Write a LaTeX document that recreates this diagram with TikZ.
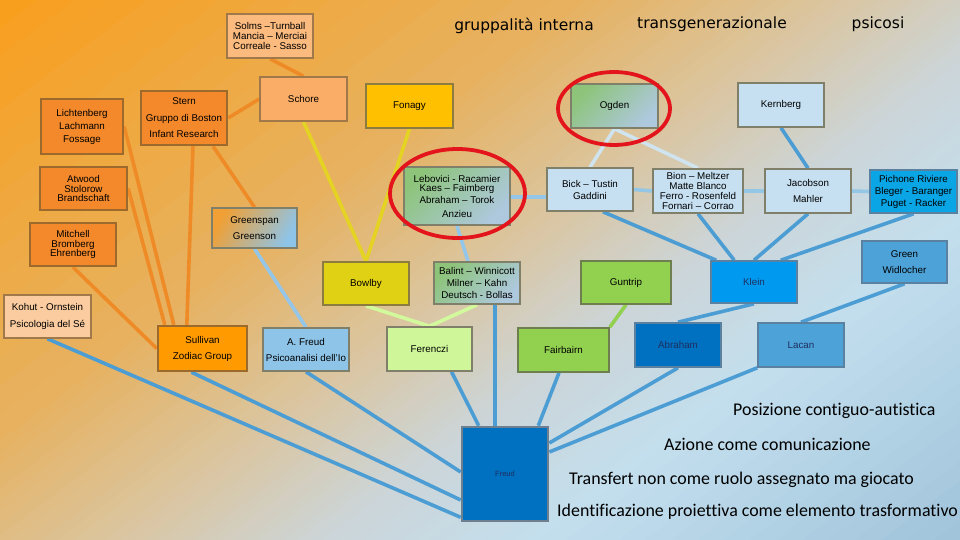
\documentclass[tikz,border=0pt]{standalone}
\usepackage{fontspec}
\setmainfont{Liberation Sans}
\newfontfamily\titlefont{DejaVu Sans}
\newfontfamily\notefont[Ligatures=NoCommon]{Carlito}
\usetikzlibrary{calc}
\newcommand\nfont[1]{\fontsize{9.8}{#1}\selectfont}
\definecolor{bgA}{HTML}{F99E1C}
\definecolor{bgB}{HTML}{E6B262}
\definecolor{bgC}{HTML}{DAC6A2}
\definecolor{bgD}{HTML}{CCD5D8}
\definecolor{bgE}{HTML}{C3DFEE}
\definecolor{bgF}{HTML}{A0C3DA}
\definecolor{fOrange}{HTML}{F4892B}
\definecolor{fPeach}{HTML}{FBBA7E}
\definecolor{fSchore}{HTML}{F9AD66}
\definecolor{fKohut}{HTML}{FBCCA0}
\definecolor{fSull}{HTML}{FF9A00}
\definecolor{fFonagy}{HTML}{FFC000}
\definecolor{fBowlby}{HTML}{E1D114}
\definecolor{fFer}{HTML}{CFF79A}
\definecolor{fGreen}{HTML}{92D050}
\definecolor{fPale}{HTML}{C6E0F2}
\definecolor{fAFreud}{HTML}{8EC4E8}
\definecolor{fPich}{HTML}{0AA5E5}
\definecolor{fKlein}{HTML}{0099F0}
\definecolor{fMid}{HTML}{4DA2D8}
\definecolor{fDark}{HTML}{0070C0}
\definecolor{gGreen}{HTML}{8DC47A}
\definecolor{gBlue}{HTML}{AEC8DE}
\definecolor{gOr}{HTML}{F0A035}
\definecolor{bBrown}{HTML}{9C6A2C}
\definecolor{bTan}{HTML}{A0784A}
\definecolor{bOlive}{HTML}{8C7C40}
\definecolor{bGreen}{HTML}{6E7E4E}
\definecolor{bGray}{HTML}{7F7F6A}
\definecolor{bBlue}{HTML}{5A82A0}
\definecolor{bFreud}{HTML}{6E808F}
\definecolor{tNavy}{HTML}{1F3060}
\definecolor{lO}{HTML}{EF8B26}
\definecolor{lY}{HTML}{E4D322}
\definecolor{lLB}{HTML}{93C6E8}
\definecolor{lVL}{HTML}{D0E4F0}
\definecolor{lMB}{HTML}{94C6E6}
\definecolor{lB}{HTML}{4C9DD3}
\definecolor{lG}{HTML}{92D050}
\definecolor{lLG}{HTML}{D2FA9C}
\definecolor{ringRed}{HTML}{E3141B}
\pgfdeclarelayer{bg}
\pgfdeclarelayer{lines}
\pgfsetlayers{bg,lines,main}
\begin{document}
\begin{tikzpicture}[x=1pt,y=-1pt,
  box/.style={draw=bGray, line width=1.6pt, minimum width=86pt, minimum height=44pt,
    inner sep=1pt, align=center, font=\nfont{16.5}, text=black},
  obox/.style={box, fill=fOrange, draw=bBrown, line width=2.4pt},
  pbox/.style={box, fill=fPale, draw=bGray},
  gbox/.style={box, draw=bGray, top color=gGreen, bottom color=gBlue, shading angle=45},
  con/.style={line width=3.6pt},
  cO/.style={con, draw=lO},
  cY/.style={con, draw=lY},
  cLB/.style={con, draw=lLB},
  cVL/.style={con, draw=lVL},
  cMB/.style={con, draw=lMB},
  cB/.style={con, draw=lB},
  cG/.style={con, draw=lG},
  cLG/.style={con, draw=lLG},
  ring/.style={draw=ringRed, line width=3.8pt},
  ttl/.style={font=\titlefont\fontsize{15.5}{18}\selectfont, text=black, inner sep=0pt},
  note/.style={font=\notefont\fontsize{17.9}{20}\selectfont, text=black, inner sep=0pt, anchor=west}
]
\useasboundingbox (0,0) rectangle (960,540);
\begin{pgfonlayer}{bg}
\clip (0,0) rectangle (960,540);
\foreach \fa/\fb/\ca/\cb in {0/0.35/bgA/bgB,0.35/0.5/bgB/bgC,0.5/0.62/bgC/bgD,0.62/0.75/bgD/bgE,0.75/1/bgE/bgF}{
  \foreach \j in {0,...,15}{
    \pgfmathsetmacro\sa{1260*(\fa+(\fb-\fa)*\j/16)}
    \pgfmathsetmacro\sb{1260*(\fa+(\fb-\fa)*(\j+1)/16)+1.5}
    \pgfmathsetmacro\xa{\sa/0.75}
    \pgfmathsetmacro\xb{\sb/0.75}
    \pgfmathsetmacro\xc{(\sb-540)/0.75}
    \pgfmathsetmacro\xd{(\sa-540)/0.75}
    \pgfmathsetmacro\pc{(\j+0.5)*100/16}
    \fill[\cb!\pc!\ca] (\xa,0) -- (\xb,0) -- (\xc,540) -- (\xd,540) -- cycle;
  }
}
\end{pgfonlayer}

% titles
\node[ttl] (t1) at (524,26) {gruppalità interna};
\node[ttl] (t2) at (712,24) {transgenerazionale};
\node[ttl] (t3) at (878,24) {psicosi};

% nodes
\node[box, fill=fPeach, draw=bTan, font=\nfont{9.8}] (solms) at (270,36) {Solms –Turnball\\Mancia – Merciai\\Correale - Sasso};
\node[box, fill=fSchore, draw=bTan, minimum width=87pt] (schore) at (303.5,99) {Schore};
\node[box, fill=fFonagy, draw=bOlive, minimum width=87pt] (fonagy) at (409.5,106) {Fonagy};
\node[gbox, minimum width=87pt] (ogden) at (614.5,106) {Ogden};
\node[pbox] (kernberg) at (781,105) {Kernberg};
\node[obox, minimum width=82pt, minimum height=55pt, font=\nfont{13}] (lichten) at (82,126.5) {Lichtenberg\\Lachmann\\Fossage};
\node[obox, minimum height=54pt] (stern) at (184,118) {Stern\\Gruppo di Boston\\Infant Research};
\node[obox, minimum width=87pt, minimum height=43pt, font=\nfont{9.6}] (atwood) at (83.5,188.5) {Atwood\\Stolorow\\Brandschaft};
\node[obox, minimum height=43pt, font=\nfont{9.6}] (mitchell) at (73,244.5) {Mitchell\\Bromberg\\Ehrenberg};
\node[box, draw=bGray, top color=gOr, bottom color=fAFreud, shading angle=60, minimum width=85pt, minimum height=40pt] (greenspan) at (254.5,228) {Greenspan\\Greenson};
\node[gbox, minimum width=106pt, minimum height=58pt, font=\nfont{9.5}] (lebovici) at (457,196) {Lebovici - Racamier\\Kaes – Faimberg\\[2.5pt]Abraham – Torok\\[4pt]Anzieu};
\node[pbox, minimum height=43pt, font=\nfont{12}] (bick) at (590,189.5) {Bick – Tustin\\Gaddini};
\node[pbox, minimum width=90pt, font=\nfont{10}] (bion) at (698,191) {Bion – Meltzer\\Matte Blanco\\Ferro - Rosenfeld\\Fornari – Corrao};
\node[pbox] (jacobson) at (808,191) {Jacobson\\Mahler};
\node[box, fill=fPich, draw=bBlue, minimum width=87pt, minimum height=43pt, font=\nfont{12}] (pichone) at (913.5,191.5) {Pichone Riviere\\Bleger - Baranger\\Puget - Racker};
\node[box, fill=fMid, draw=bBlue, minimum width=85pt, minimum height=42pt] (greenw) at (904.5,262) {Green\\Widlocher};
\node[box, fill=fBowlby, draw=bOlive, minimum height=43pt] (bowlby) at (366,283.5) {Bowlby};
\node[gbox, minimum height=42pt, font=\nfont{12}] (balint) at (477,283) {Balint – Winnicott\\Milner – Kahn\\Deutsch - Bollas};
\node[box, fill=fGreen, draw=bGreen, minimum width=90pt, minimum height=43pt] (guntrip) at (626,282.5) {Guntrip};
\node[box, fill=fKlein, draw=bBlue, minimum height=42pt, text=tNavy] (klein) at (754,282) {Klein};
\node[box, fill=fKohut, draw=bTan, minimum width=87pt, minimum height=43pt] (kohut) at (47.5,316.5) {Kohut - Ornstein\\Psicologia del Sé};
\node[obox, fill=fSull, minimum width=89pt, minimum height=45pt, font=\nfont{16}] (sullivan) at (202.5,348.5) {Sullivan\\Zodiac Group};
\node[box, fill=fAFreud, draw=bGray, minimum height=43pt, font=\nfont{16}] (afreud) at (306,349.5) {A. Freud\\Psicoanalisi dell’Io};
\node[box, fill=fFer, draw=bGray, minimum width=85pt] (ferenczi) at (429.5,349) {Ferenczi};
\node[box, fill=fGreen, draw=bGreen, minimum width=91pt] (fairbairn) at (563.5,350) {Fairbairn};
\node[box, fill=fDark, draw=bBlue, text=tNavy] (abraham) at (678,345) {Abraham};
\node[box, fill=fMid, draw=bBlue, text=tNavy] (lacan) at (801,345) {Lacan};
\node[box, fill=fDark, draw=bFreud, line width=2.6pt, minimum height=94pt, text=tNavy, font=\fontsize{7.5}{9}\selectfont] (freud) at (505,474) {Freud};

% connectors
\begin{pgfonlayer}{lines}
\draw[cO] (solms.south) -- (schore.north);
\draw[cO] (stern.east) -- (schore.west);
\draw[cO] ($(stern.south)+(9,0)$) -- ($(sullivan.north west)+(30,0)$);
\draw[cO] ($(stern.south)+(29,0)$) -- (greenspan.north);
\draw[cO] (lichten.east) -- ($(sullivan.north west)+(17,0)$);
\draw[cO] (atwood.east) -- ($(sullivan.north west)+(8,0)$);
\draw[cO] (mitchell.south) -- (sullivan.west);
\draw[cY] (schore.south) -- (bowlby.north);
\draw[cY] (fonagy.south) -- (bowlby.north);
\draw[cLB] (greenspan.south) -- (afreud.north);
\draw[cLB] (lebovici.south) -- ($(balint.north)+(-9,0)$);
\draw[cLB] ($(lebovici.east)+(0,1)$) -- ($(bick.west)+(0,7.5)$);
\draw[cVL] (ogden.south) -- (bick.north);
\draw[cVL] (ogden.south) -- (bion.north);
\draw[cMB] (bick.east) -- (bion.west);
\draw[cMB] (bion.east) -- (jacobson.west);
\draw[cMB] (jacobson.east) -- (pichone.west);
\draw[cB] ($(bick.south)+(13,0)$) -- ($(klein.north west)+(6,0)$);
\draw[cB] (bion.south) -- ($(klein.north west)+(24,0)$);
\draw[cB] (jacobson.south) -- (klein.north);
\draw[cB] (pichone.south) -- ($(klein.north east)+(-17,0)$);
\draw[cB] (klein.south) -- (abraham.north);
\draw[cB] (kernberg.south) -- (jacobson.north);
\draw[cB] (greenw.south) -- (lacan.north);
\draw[cG] (guntrip.south) -- (fairbairn.north east);
\draw[cLG] (bowlby.south) -- (ferenczi.north);
\draw[cLG] (balint.south) -- (ferenczi.north);
\draw[cB] (kohut.south) -- ($(freud.south west)+(0,-5)$);
\draw[cB] ($(sullivan.south)+(-11,0)$) -- ($(freud.west)+(0,26)$);
\draw[cB] (afreud.south) -- ($(freud.west)+(0,-2)$);
\draw[cB] ($(ferenczi.south)+(22,0)$) -- ($(freud.north west)+(18,0)$);
\draw[cB] ($(balint.south)+(18,0)$) -- ($(freud.north)+(-10,0)$);
\draw[cB] ($(fairbairn.south)+(-4.5,0)$) -- ($(freud.north east)+(-11,0)$);
\draw[cB] (abraham.south) -- ($(freud.east)+(0,-31)$);
\draw[cB] (lacan.south west) -- ($(freud.east)+(0,-22)$);
\end{pgfonlayer}

% red rings
\draw[ring] (457.5,193.5) ellipse [x radius=67.5, y radius=44.5];
\draw[ring] (614,108.5) ellipse [x radius=56, y radius=36.5];

% notes
\node[note] (n1) at (733,411) {Posizione contiguo-autistica};
\node[note] (n2) at (664,444) {Azione come comunicazione};
\node[note] (n3) at (569,480) {Transfert non come ruolo assegnato ma giocato};
\node[note] (n4) at (557,512) {Identificazione proiettiva come elemento trasformativo};
\end{tikzpicture}
\end{document}
